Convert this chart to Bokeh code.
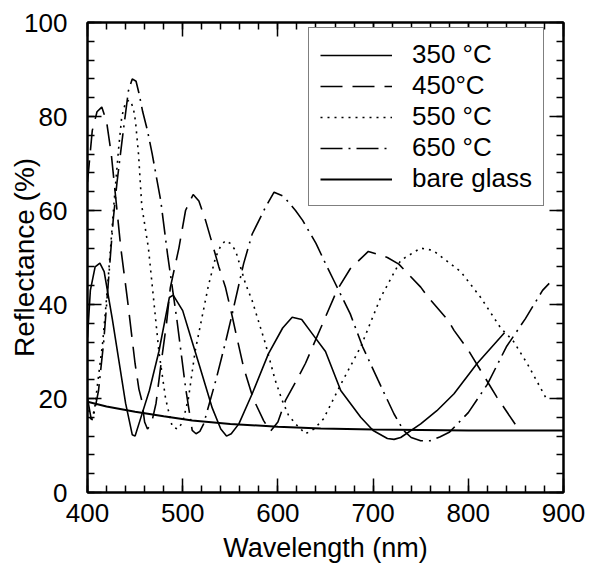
from bokeh.plotting import figure
from bokeh.models import Legend, LegendItem, LinearAxis, FixedTicker
from bokeh.embed import file_html
from bokeh.resources import INLINE

# ---- data ----
x_350 = [400, 403, 408, 413, 417.5, 426, 433, 440, 447, 450, 454, 465, 475, 486, 490, 500, 510, 517,
         531, 540, 546, 551, 559, 573, 590, 605, 615, 625, 636, 650, 666, 687, 700, 715, 722, 729,
         750, 767, 785, 809, 838]
y_350 = [33, 43, 48, 48.8, 47, 37, 28, 19, 12.3, 12, 14.6, 21.7, 30, 41.5, 42, 38.7, 32, 27.4,
         18, 13.5, 12, 12.5, 14.6, 21, 29.5, 35, 37.3, 36.8, 33.8, 30, 21.7, 16, 13.2, 11.5, 11.3, 11.7,
         14.6, 17.4, 21, 27.4, 34]

x_450 = [400, 405, 410, 415, 420, 425, 431, 435, 442, 450, 454, 457, 460, 463, 467, 472, 477, 483,
         487, 496, 503, 511, 517, 524, 531, 538, 545, 552, 556, 564, 574, 585, 592, 600, 608, 620,
         629, 645, 662, 676, 695, 715, 727, 750, 758, 779, 785, 799, 830, 855]
y_450 = [66, 77, 81, 82, 79, 72, 60, 52, 41, 27.4, 22, 19.6, 15, 13.5, 14.5, 19, 27, 36,
         43.6, 52, 60, 63.4, 62, 57.9, 53, 48, 43.6, 37.5, 33.8, 26.6, 20, 15.3, 13, 15, 19.6, 24,
         27.5, 35, 43, 47.6, 51.3, 50, 48.6, 43.7, 41.5, 36.6, 34.5, 30.6, 20.3, 12.8]

x_550 = [400, 404, 407, 410.5, 416, 421, 424, 428, 432.6, 436, 440, 444, 448, 450.4, 453.6, 457, 464,
         469, 475, 482, 489, 495, 500, 506, 513, 520, 527, 534.5, 540, 545, 550, 555.5, 566, 573,
         576.5, 587, 597, 604.5, 611, 618.5, 629, 638, 648, 666, 687, 708, 729, 750, 763, 792, 813,
         834, 847, 862, 883]
y_550 = [19, 15, 17, 23, 32, 43.6, 51.5, 62, 73, 80, 83, 83.5, 82, 79, 72, 61, 52,
         42, 30, 20, 14, 13.5, 15, 20, 30, 37, 44, 50, 52.5, 53.6, 53, 51.5, 44.4, 40.8,
         38.5, 31.6, 24, 19.6, 16.5, 14.6, 12.5, 13.5, 15.7, 23, 31, 41.5, 49.4, 52, 51.5, 47, 41.5,
         35, 32.3, 27.4, 19.6]

x_650 = [400, 404, 408, 411.6, 417, 422, 427, 431, 437, 443, 447, 451, 454, 458, 463, 468, 477, 484,
         494, 503, 510, 514, 518, 522, 535, 545, 552, 564, 573, 587, 596, 606, 618.5, 626, 640, 650,
         659, 676, 689, 705, 722, 732, 740, 750, 760, 770, 780, 800, 820, 840, 860, 878, 885]
y_650 = [20, 15.5, 18, 21.7, 32, 45, 58, 66, 76, 85.5, 88, 87.5, 85, 81, 77, 72, 62, 50.8,
         36.6, 22.3, 13.2, 12.5, 13, 14.6, 24, 32, 38, 48.7, 55, 60.7, 63.9, 63, 60, 57.9, 53, 48.7,
         45, 38, 31, 24, 16.7, 13.2, 11.7, 11, 11, 11.8, 12.8, 17, 23, 31, 37, 43, 44.5]

x_glass = [400, 420, 450, 480, 510, 550, 600, 645, 700, 750, 800, 850, 900]
y_glass = [19.3, 18.3, 17.2, 16.2, 15.3, 14.6, 14.0, 13.6, 13.4, 13.3, 13.2, 13.2, 13.2]

labels = ["350 \u00b0C", "450\u00b0C", "550 \u00b0C", "650 \u00b0C", "bare glass"]
x_ticks = [400, 500, 600, 700, 800, 900]
y_ticks = [0, 20, 40, 60, 80, 100]

FONT = "Liberation Sans"

p = figure(width=595, height=577, x_range=(400, 900), y_range=(0, 100),
           output_backend="svg", toolbar_location=None,
           min_border_left=87, min_border_right=32, min_border_top=22, min_border_bottom=85)
p.background_fill_color = "white"
p.border_fill_color = "white"
p.outline_line_color = "black"
p.outline_line_width = 2
p.xgrid.visible = False
p.ygrid.visible = False

r350 = p.line(x_350, y_350, line_color="black", line_width=1.6)
r450 = p.line(x_450, y_450, line_color="black", line_width=1.6, line_dash="22 10")
r550 = p.line(x_550, y_550, line_color="black", line_width=1.6, line_dash="2 5")
r650 = p.line(x_650, y_650, line_color="black", line_width=1.6, line_dash="22 6 2 6")
rgl = p.line(x_glass, y_glass, line_color="black", line_width=2)

def style_axis(ax, show_labels=True):
    ax.axis_line_color = "black"
    ax.axis_line_width = 2
    ax.major_tick_in = 14
    ax.major_tick_out = 0
    ax.minor_tick_in = 7
    ax.minor_tick_out = 0
    ax.major_tick_line_width = 1.5
    ax.minor_tick_line_width = 1.5
    ax.major_tick_line_color = "black"
    ax.minor_tick_line_color = "black"
    ax.major_label_text_font = FONT
    ax.axis_label_text_font = FONT
    ax.axis_label_text_font_style = "normal"
    ax.axis_label_text_color = "black"
    ax.axis_label_text_font_size = "27px"
    if show_labels:
        ax.major_label_text_font_size = "26px"
        ax.major_label_text_color = "black"
    else:
        ax.major_label_text_font_size = "1px"
        ax.major_label_text_color = None

xt = FixedTicker(ticks=x_ticks, minor_ticks=list(range(400, 901, 20)))
yt = FixedTicker(ticks=y_ticks, minor_ticks=list(range(0, 101, 4)))

p.xaxis.ticker = xt
p.yaxis.ticker = yt
style_axis(p.xaxis[0])
style_axis(p.yaxis[0])
p.xaxis.axis_label = "Wavelength (nm)"
p.yaxis.axis_label = "Reflectance (%)"
p.yaxis.axis_label_text_font_size = "28px"
p.xaxis.major_label_standoff = 11
p.xaxis.axis_label_standoff = 8
p.yaxis.major_label_standoff = 20
p.yaxis.axis_label_standoff = -19

top = LinearAxis(ticker=FixedTicker(ticks=x_ticks, minor_ticks=list(range(400, 901, 20))))
style_axis(top, show_labels=False)
p.add_layout(top, "above")
right = LinearAxis(ticker=FixedTicker(ticks=y_ticks, minor_ticks=list(range(0, 101, 4))))
style_axis(right, show_labels=False)
p.add_layout(right, "right")

legend = Legend(items=[LegendItem(label=labels[0], renderers=[r350]),
                       LegendItem(label=labels[1], renderers=[r450]),
                       LegendItem(label=labels[2], renderers=[r550]),
                       LegendItem(label=labels[3], renderers=[r650]),
                       LegendItem(label=labels[4], renderers=[rgl])],
                location=(221, 286))
legend.label_text_font = FONT
legend.label_text_font_size = "26px"
legend.label_text_color = "black"
legend.glyph_width = 72
legend.glyph_height = 22
legend.label_height = 22
legend.label_standoff = 20
legend.spacing = 0
legend.padding = 11
legend.border_line_color = "black"
legend.border_line_width = 1.5
legend.background_fill_color = "white"
legend.background_fill_alpha = 1
p.add_layout(legend)

open("out.html", "w").write(file_html(p, INLINE))
